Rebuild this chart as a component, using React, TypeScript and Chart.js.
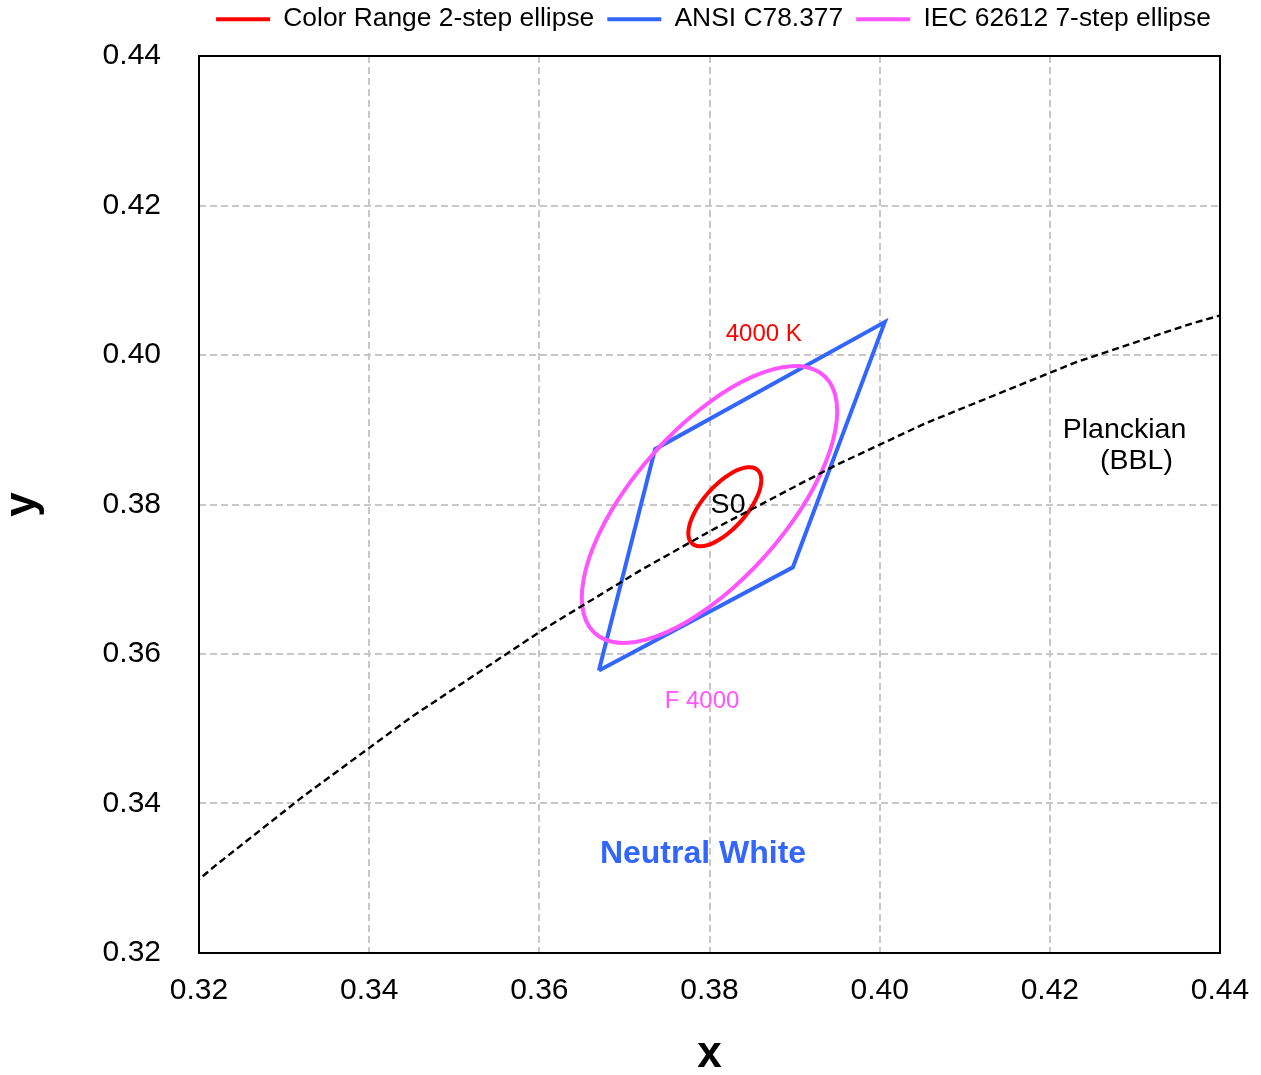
import React, { useEffect, useRef } from 'react';
import { Chart, registerables } from 'chart.js';

Chart.register(...registerables);

// ---- Data ----
const tickValues = [0.32, 0.34, 0.36, 0.38, 0.4, 0.42, 0.44];

const seriesNames = ['Color Range 2-step ellipse', 'ANSI C78.377', 'IEC 62612 7-step ellipse', 'Planckian (BBL)'];

// Color Range 2-step ellipse (S0, 4000 K) - outline points
const redEllipseX = [
  0.3855, 0.38507, 0.38454, 0.38393, 0.38325, 0.38253, 0.38178, 0.38104, 0.38032, 0.37964, 0.37903, 0.3785,
  0.37808, 0.37776, 0.37757, 0.37751, 0.37758, 0.37778, 0.3781, 0.37853, 0.37906, 0.37967, 0.38035, 0.38107,
  0.38182, 0.38256, 0.38328, 0.38396, 0.38457, 0.3851, 0.38552, 0.38584, 0.38603, 0.38609, 0.38602, 0.38582,
];
const redEllipseY = [
  0.38475, 0.38495, 0.38499, 0.38486, 0.38459, 0.38416, 0.3836, 0.38292, 0.38214, 0.38129, 0.38039, 0.37946,
  0.37855, 0.37767, 0.37685, 0.37612, 0.3755, 0.37501, 0.37465, 0.37445, 0.37441, 0.37454, 0.37481, 0.37524,
  0.3758, 0.37648, 0.37726, 0.37811, 0.37901, 0.37994, 0.38085, 0.38173, 0.38255, 0.38328, 0.3839, 0.38439,
];

// ANSI C78.377 4000 K quadrangle
const ansiQuadX = [0.367, 0.3736, 0.4006, 0.3898, 0.367];
const ansiQuadY = [0.3578, 0.3874, 0.4044, 0.3716, 0.3578];

// IEC 62612 7-step ellipse (F 4000) - outline points
const iecEllipseX = [
  0.39297, 0.39146, 0.3896, 0.38745, 0.38507, 0.38254, 0.37993, 0.37733, 0.3748, 0.37244, 0.3703, 0.36846,
  0.36697, 0.36587, 0.36521, 0.36499, 0.36523, 0.36592, 0.36703, 0.36854, 0.3704, 0.37255, 0.37493, 0.37746,
  0.38007, 0.38267, 0.3852, 0.38756, 0.3897, 0.39154, 0.39303, 0.39413, 0.39479, 0.39501, 0.39477, 0.39408,
];
const iecEllipseY = [
  0.39766, 0.39836, 0.3985, 0.39807, 0.3971, 0.39561, 0.39364, 0.39126, 0.38853, 0.38555, 0.3824, 0.37918,
  0.37598, 0.3729, 0.37004, 0.36748, 0.3653, 0.36357, 0.36234, 0.36164, 0.3615, 0.36193, 0.3629, 0.36439,
  0.36636, 0.36874, 0.37147, 0.37445, 0.3776, 0.38082, 0.38402, 0.3871, 0.38996, 0.39252, 0.3947, 0.39643,
];

// Planckian locus (black body line)
const planckX = [0.3135, 0.32202, 0.33234, 0.34499, 0.3607, 0.372, 0.38046, 0.39475, 0.40534, 0.42318, 0.43658, 0.44379];
const planckY = [0.32366, 0.33178, 0.34104, 0.35159, 0.36345, 0.37127, 0.37668, 0.3852, 0.39085, 0.39908, 0.40417, 0.40653];

// Text annotations (data coordinates)
const annotationTexts = ['4000 K', 'S0', 'F 4000', 'Planckian', '(BBL)', 'Neutral White'];
const annotationX = [0.38638, 0.38218, 0.37912, 0.42878, 0.43019, 0.37924];
const annotationY = [0.40274, 0.37987, 0.35371, 0.3899, 0.38582, 0.33324];

// ---- Styles ----
const FONT = '"Liberation Sans", Arial, Helvetica, sans-serif';
const RED = '#ff0000';
const BLUE = '#3366ff';
const MAGENTA = '#ff55ff';
const annotationFonts = [
  `24px ${FONT}`,
  `28.5px ${FONT}`,
  `24px ${FONT}`,
  `28.5px ${FONT}`,
  `28.5px ${FONT}`,
  `bold 32px ${FONT}`,
];
const annotationColors = [RED, '#000000', MAGENTA, '#000000', '#000000', BLUE];

const toPoints = (xs: number[], ys: number[]) => xs.map((x, i) => ({ x, y: ys[i] }));

// closed outline, starting at a flat part of the ellipse so the seam is invisible
const closedLoop = (xs: number[], ys: number[], start: number) => {
  const pts = toPoints(xs, ys);
  const rotated = pts.slice(start).concat(pts.slice(0, start));
  return rotated.concat([rotated[0]]);
};

const legendGapPlugin = {
  id: 'legendGap',
  beforeLayout(chart: any) {
    const lg = chart.legend;
    if (lg && !lg.__gapPatched) {
      const orig = lg.fit;
      lg.fit = function () {
        const mw = this.maxWidth;
        this.maxWidth = mw + 120;
        orig.call(this);
        this.maxWidth = mw;
        this.width = Math.min(this.width, mw);
        this.height += 13.6;
      };
      lg.__gapPatched = true;
    }
  },
  afterLayout(chart: any) {
    const lg = chart.legend;
    if (lg) {
      lg.left -= 2;
      lg.right += 10;
    }
  },
};

const frameAndTextPlugin = {
  id: 'frameAndText',
  afterDatasetsDraw(chart: any) {
    const { ctx, chartArea, scales } = chart;
    ctx.save();
    ctx.strokeStyle = '#000000';
    ctx.lineWidth = 2;
    ctx.setLineDash([]);
    ctx.strokeRect(chartArea.left, chartArea.top, chartArea.right - chartArea.left, chartArea.bottom - chartArea.top);
    ctx.textAlign = 'center';
    ctx.textBaseline = 'middle';
    annotationTexts.forEach((t, i) => {
      ctx.font = annotationFonts[i];
      ctx.fillStyle = annotationColors[i];
      ctx.fillText(t, scales.x.getPixelForValue(annotationX[i]), scales.y.getPixelForValue(annotationY[i]));
    });
    ctx.restore();
  },
};

export default function App() {
  const canvasRef = useRef<HTMLCanvasElement | null>(null);

  useEffect(() => {
    if (!canvasRef.current) return;
    const gridOpts = { color: '#c8c8c8', lineWidth: 2, drawTicks: false };
    const chart = new Chart(canvasRef.current, {
      type: 'scatter',
      data: {
        datasets: [
          {
            label: seriesNames[0],
            data: closedLoop(redEllipseX, redEllipseY, 9),
            showLine: true,
            tension: 0.4,
            borderColor: RED,
            backgroundColor: RED,
            borderWidth: 4,
            pointRadius: 0,
            borderJoinStyle: 'round',
            order: 0,
          },
          {
            label: seriesNames[1],
            data: toPoints(ansiQuadX, ansiQuadY),
            showLine: true,
            borderColor: BLUE,
            backgroundColor: BLUE,
            borderWidth: 4,
            pointRadius: 0,
            order: 2,
          },
          {
            label: seriesNames[2],
            data: closedLoop(iecEllipseX, iecEllipseY, 9),
            showLine: true,
            tension: 0.4,
            borderColor: MAGENTA,
            backgroundColor: MAGENTA,
            borderWidth: 4,
            pointRadius: 0,
            borderJoinStyle: 'round',
            order: 1,
          },
          {
            label: seriesNames[3],
            data: toPoints(planckX, planckY),
            showLine: true,
            borderColor: '#000000',
            backgroundColor: '#000000',
            borderWidth: 2.4,
            borderDash: [7, 4],
            pointRadius: 0,
            order: -1,
          },
        ],
      },
      options: {
        animation: false,
        responsive: false,
        devicePixelRatio: 1,
        layout: { padding: { top: -7, right: 41, left: 0, bottom: 0 } },
        plugins: {
          legend: {
            position: 'top',
            fullSize: false,
            labels: {
              font: { family: FONT, size: 26.4 },
              color: '#000000',
              boxWidth: 54,
              boxHeight: 4,
              padding: 13,
              filter: (item: any) => item.datasetIndex < 3,
              sort: (a: any, b: any) => a.datasetIndex - b.datasetIndex,
              generateLabels: (c: any) =>
                (Chart.defaults.plugins.legend.labels as any)
                  .generateLabels(c)
                  .map((l: any) => ({ ...l, lineWidth: 0, fillStyle: l.strokeStyle })),
            },
          },
          tooltip: { enabled: false },
        },
        scales: {
          x: {
            type: 'linear',
            min: 0.32,
            max: 0.44,
            afterBuildTicks: (s: any) => {
              s.ticks = tickValues.map((value) => ({ value }));
            },
            afterFit: (s: any) => {
              s.height = 122;
            },
            grid: gridOpts,
            border: { display: false, dash: [7, 4] },
            ticks: {
              font: { family: FONT, size: 30, lineHeight: 2 },
              color: '#000000',
              padding: 8,
              maxRotation: 0,
              callback: (v: any) => Number(v).toFixed(2),
            },
            title: {
              display: true,
              text: 'x',
              color: '#000000',
              font: { family: FONT, size: 44, weight: 'bold', lineHeight: 1 },
              padding: { top: 0, bottom: -2 },
            },
          },
          y: {
            type: 'linear',
            min: 0.32,
            max: 0.44,
            afterBuildTicks: (s: any) => {
              s.ticks = tickValues.map((value) => ({ value }));
            },
            afterFit: (s: any) => {
              s.width = 199;
            },
            grid: gridOpts,
            border: { display: false, dash: [7, 4] },
            ticks: {
              font: { family: FONT, size: 30 },
              color: '#000000',
              padding: 38,
              callback: (v: any) => Number(v).toFixed(2),
            },
            title: {
              display: true,
              text: 'y',
              color: '#000000',
              font: { family: FONT, size: 44, weight: 'bold', lineHeight: 1 },
              padding: { top: 1, bottom: 0 },
            },
          },
        },
      } as any,
      plugins: [legendGapPlugin, frameAndTextPlugin],
    });
    return () => chart.destroy();
  }, []);

  return (
    <div style={{ position: 'absolute', left: 0, top: 0, width: 1261, height: 1075, background: '#ffffff' }}>
      <canvas ref={canvasRef} width={1261} height={1075} style={{ display: 'block' }} />
    </div>
  );
}
